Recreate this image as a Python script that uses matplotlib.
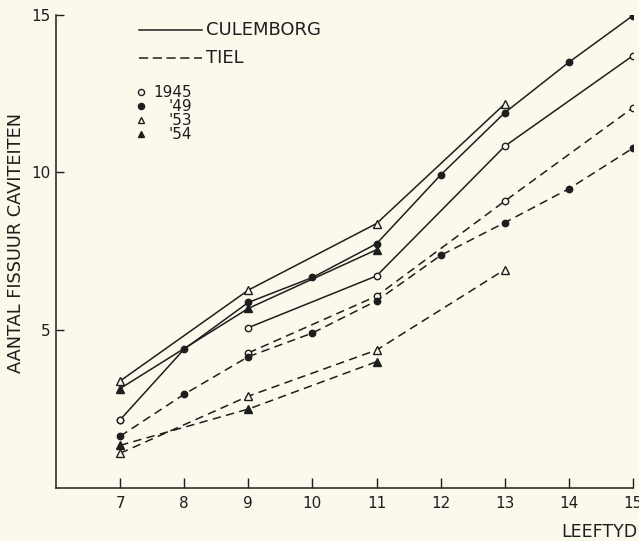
import matplotlib.pyplot as plt

leeftyd = [7, 8, 9, 10, 11, 12, 13, 14, 15]

# Culemborg (doorgetrokken lijn)
cul_1945_x = [9, 11, 13, 15]
cul_1945_y = [5.08, 6.72, 10.83, 13.70]
cul_1949_x = leeftyd
cul_1949_y = [2.16, 4.40, 5.88, 6.67, 7.74, 9.92, 11.89, 13.49, 14.97]
cul_1953_x = [7, 9, 11, 13]
cul_1953_y = [3.39, 6.27, 8.38, 12.17]
cul_1954_x = [7, 9, 11]
cul_1954_y = [3.15, 5.69, 7.55]

# Tiel (gestreepte lijn)
tiel_1945_x = [9, 11, 13, 15]
tiel_1945_y = [4.28, 6.08, 9.09, 12.05]
tiel_1949_x = leeftyd
tiel_1949_y = [1.64, 2.97, 4.16, 4.91, 5.93, 7.37, 8.41, 9.48, 10.77]
tiel_1953_x = [7, 9, 11, 13]
tiel_1953_y = [1.10, 2.91, 4.37, 6.92]
tiel_1954_x = [7, 9, 11]
tiel_1954_y = [1.35, 2.50, 4.00]

jaren = ["1945", "'49", "'53", "'54"]

inkt = "#1e1e1e"
papier = "#fbf9ec"

plt.rcParams["font.family"] = "DejaVu Sans"
fig = plt.figure(figsize=(6.39, 5.41), dpi=100, facecolor=papier)
ax = fig.add_axes([0.0876, 0.098, 0.903, 0.875], facecolor=papier)

def teken(x, y, stijl, marker, gevuld):
    ax.plot(x, y, linestyle=stijl, color=inkt, lw=1.1,
            dashes=(5.5, 3.5) if stijl == "--" else (None, None),
            marker=marker, ms=4.6 if marker == "o" else 5.4,
            mfc=inkt if gevuld else papier, mec=inkt, mew=1.0)

teken(cul_1945_x, cul_1945_y, "-", "o", False)
teken(cul_1949_x, cul_1949_y, "-", "o", True)
teken(cul_1953_x, cul_1953_y, "-", "^", False)
teken(cul_1954_x, cul_1954_y, "-", "^", True)
# eerste punt van '49 Culemborg staat als open rondje in het origineel
ax.plot(cul_1949_x[:1], cul_1949_y[:1], "o", ms=4.6, mfc=papier, mec=inkt, mew=1.0)

teken(tiel_1945_x, tiel_1945_y, "--", "o", False)
teken(tiel_1949_x, tiel_1949_y, "--", "o", True)
teken(tiel_1953_x, tiel_1953_y, "--", "^", False)
teken(tiel_1954_x, tiel_1954_y, "--", "^", True)

ax.set_xlim(6, 15)
ax.set_ylim(0, 15)
ax.set_xticks(leeftyd)
ax.set_yticks([5, 10, 15])
ax.tick_params(axis="x", direction="in", length=7, width=1, colors=inkt,
               labelsize=11, pad=6)
ax.tick_params(axis="y", direction="in", length=6, width=1, colors=inkt,
               labelsize=11, pad=4)
for s in ["top", "right"]:
    ax.spines[s].set_visible(False)
for s in ["left", "bottom"]:
    ax.spines[s].set_color(inkt)
    ax.spines[s].set_linewidth(1.1)

ax.set_ylabel("AANTAL FISSUUR CAVITEITEN", fontsize=12.8, color=inkt)
ax.yaxis.set_label_coords(-0.053, 0.518)
fig.text(0.997, 0.016, "LEEFTYD", ha="right", va="center", fontsize=12.5, color=inkt)

# legenda
ax.plot([7.30, 8.27], [14.5, 14.5], "-", color=inkt, lw=1.1)
ax.text(8.34, 14.5, "CULEMBORG", va="center", fontsize=13, color=inkt)
ax.plot([7.30, 8.27], [13.64, 13.64], "--", color=inkt, lw=1.1, dashes=(6, 3))
ax.text(8.34, 13.64, "TIEL", va="center", fontsize=13, color=inkt)
tekens = [("o", False), ("o", True), ("^", False), ("^", True)]
for i, (jaar, (m, gevuld)) in enumerate(zip(jaren, tekens)):
    yy = 12.54 - i * 0.445
    ax.plot([7.33], [yy], m, ms=4.4, mfc=inkt if gevuld else papier, mec=inkt, mew=1.0)
    ax.text(8.12, yy, jaar, ha="right", va="center", fontsize=11, color=inkt)

fig.savefig("out.png", dpi=100, facecolor=papier)
